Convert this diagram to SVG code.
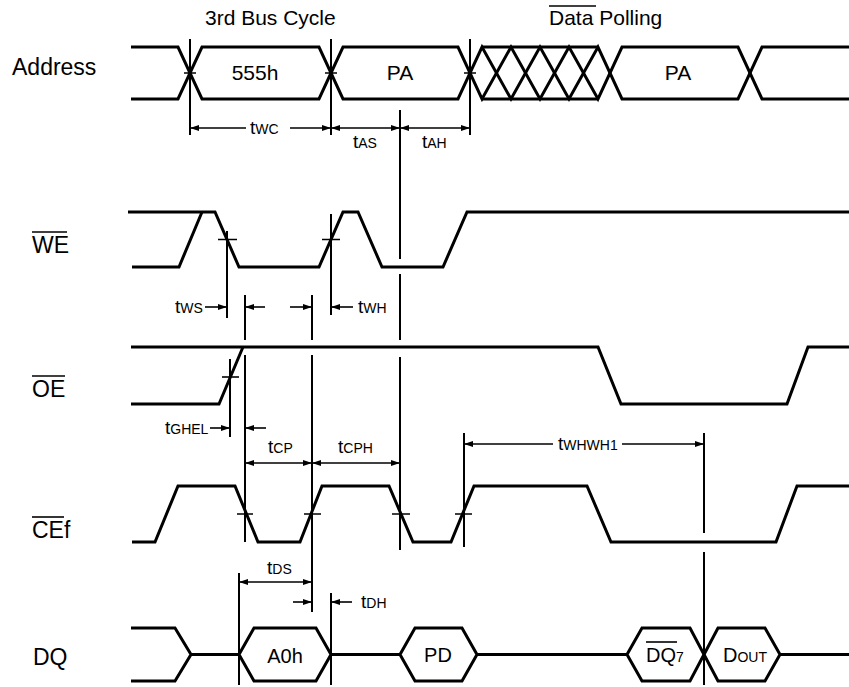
<svg xmlns="http://www.w3.org/2000/svg" width="849" height="687" viewBox="0 0 849 687">
<defs>
<style>
.sig{fill:none;stroke:#000;stroke-width:3;stroke-linejoin:miter}
.ref{fill:none;stroke:#000;stroke-width:2}
.dim{fill:none;stroke:#000;stroke-width:1.6}
.arr{fill:none;stroke:#000;stroke-width:1.6;marker-end:url(#ah)}
.arr2{fill:none;stroke:#000;stroke-width:1.6;marker-end:url(#ah);marker-start:url(#ahs)}
.lbl{font-family:"Liberation Sans",Arial,sans-serif;font-size:23px;fill:#000}
.big{font-family:"Liberation Sans",Arial,sans-serif;font-size:21px;fill:#000}
.hx{font-family:"Liberation Sans",Arial,sans-serif;font-size:20px;fill:#000}
.t{font-family:"Liberation Sans",Arial,sans-serif;font-size:19px;fill:#000}
.sub{font-size:14px}
</style>
<marker id="ah" markerUnits="userSpaceOnUse" markerWidth="10" markerHeight="8" refX="9" refY="4" orient="auto"><path d="M0,1 L9,4 L0,7 z" fill="#000"/></marker>
<marker id="ahs" markerUnits="userSpaceOnUse" markerWidth="10" markerHeight="8" refX="0" refY="4" orient="auto"><path d="M9,1 L0,4 L9,7 z" fill="#000"/></marker>
</defs>
<rect width="849" height="687" fill="#fff"/>

<g id="titles">
<text class="big" x="205" y="25">3rd Bus Cycle</text>
<text class="big" x="549" y="25">Data Polling</text>
<line class="dim" x1="549" y1="6" x2="596" y2="6"/>
</g>

<g id="address">
<text class="lbl" x="12" y="75">Address</text>
<path class="sig" d="M131,47 H178 L202,99 H319 L343,47 H458 L482,99 L511,47 L540,99 L569,47 L598,99 L622,47 H738 L762,99 H849"/>
<path class="sig" d="M131,99 H178 L202,47 H319 L343,99 H458 L482,47 L511,99 L540,47 L569,99 L598,47 L622,99 H738 L762,47 H849"/>
<path class="sig" d="M482,47 H598 M482,99 H598"/>
<text class="big" x="255" y="80" text-anchor="middle">555h</text>
<text class="big" x="400" y="80" text-anchor="middle">PA</text>
<text class="big" x="678" y="80" text-anchor="middle">PA</text>
</g>

<g id="we">
<text class="lbl" x="32" y="253">WE</text>
<line class="dim" x1="32" y1="232" x2="67" y2="232"/>
<path class="sig" d="M128,212 H215 L239,267 H319 L343,212 H358 L382,267 H443 L467,212 H849"/>
<path class="sig" d="M132,267 H179 L202,212"/>
</g>

<g id="oe">
<text class="lbl" x="32" y="397">OE</text>
<line class="dim" x1="32" y1="376" x2="65" y2="376"/>
<path class="sig" d="M131,347 H598 L621,404 H787 L808,347 H849"/>
<path class="sig" d="M131,404 H219 L243,347"/>
</g>

<g id="cef">
<text class="lbl" x="32" y="538">CEf</text>
<line class="dim" x1="32" y1="517" x2="64" y2="517"/>
<path class="sig" d="M132,542 H155 L178,486 H235 L258,542 H300 L322,486 H389 L413,542 H451 L474,486 H587 L611,542 H776 L797,486 H849"/>
</g>

<g id="dq">
<text class="lbl" x="33" y="665">DQ</text>
<path class="sig" d="M131,628 H175 L191,654.5 L175,681 H131 M191,654.5 H239 M331,654.5 H400 M477,654.5 H627 M780,654.5 H849"/>
<path class="sig" d="M239,654.5 L254,628 H316 L331,654.5 L316,681 H254 Z"/>
<path class="sig" d="M400,654.5 L415,628 H462 L477,654.5 L462,681 H415 Z"/>
<path class="sig" d="M627,654.5 L642,628 H690 L704,654.5 L690,681 H642 Z"/>
<path class="sig" d="M704,654.5 L718,628 H765 L780,654.5 L765,681 H718 Z"/>
<text class="hx" x="285" y="663" text-anchor="middle">A0h</text>
<text class="hx" x="438" y="662" text-anchor="middle">PD</text>
<text class="hx" x="646" y="662">DQ<tspan class="sub">7</tspan></text>
<line class="dim" x1="646" y1="642" x2="677" y2="642"/>
<text class="hx" x="723" y="662">D<tspan class="sub">OUT</tspan></text>
</g>

<g id="connectors">
<path class="ref" d="M190,39 V135 M331,39 V135 M470,39 V135"/>
<path class="dim" d="M184,73 H196 M325,73 H337 M464,73 H476"/>
<path class="ref" d="M400,110 V259 M400,274 V340 M400,357 V550"/>
<path class="arr" d="M246,128 H190"/>
<path class="arr" d="M290,128 H331"/>
<text class="t" x="250" y="134">t<tspan class="sub">WC</tspan></text>
<path class="arr2" d="M331,128 H400"/>
<path class="arr2" d="M400,128 H470"/>
<text class="t" x="353" y="148">t<tspan class="sub">AS</tspan></text>
<text class="t" x="422" y="148">t<tspan class="sub">AH</tspan></text>
<path class="ref" d="M227,231 V318 M331,214 V315"/>
<path class="dim" d="M218,239.5 H237 M322,239.5 H340"/>
<path class="arr" d="M205,307 H227"/>
<text class="t" x="175" y="313">t<tspan class="sub">WS</tspan></text>
<path class="arr" d="M353,307 H331"/>
<text class="t" x="358" y="313">t<tspan class="sub">WH</tspan></text>
<path class="ref" d="M245,295 V340 M245,355 V542 M312,295 V340 M312,355 V612"/>
<path class="arr" d="M265,307 H245"/>
<path class="arr" d="M290,307 H312"/>
<path class="ref" d="M230,359 V437"/>
<path class="dim" d="M222,377 H239"/>
<path class="arr" d="M210,428 H230"/>
<path class="arr" d="M266,428 H245"/>
<text class="t" x="165" y="434">t<tspan class="sub">GHEL</tspan></text>
<path class="arr2" d="M245,463 H312"/>
<path class="arr2" d="M312,463 H400"/>
<text class="t" x="268" y="453">t<tspan class="sub">CP</tspan></text>
<text class="t" x="338" y="453">t<tspan class="sub">CPH</tspan></text>
<path class="dim" d="M237,514 H253 M304,514 H321 M392,514 H410 M455,514 H472"/>
<path class="ref" d="M464,433 V547 M704,433 V533 M704,552 V685"/>
<path class="arr" d="M553,444 H464"/>
<path class="arr" d="M622,444 H704"/>
<text class="t" x="558" y="450">t<tspan class="sub">WHWH1</tspan></text>
<path class="ref" d="M239,573 V685 M331,593 V685"/>
<path class="arr2" d="M239,582 H312"/>
<text class="t" x="267" y="574">t<tspan class="sub">DS</tspan></text>
<path class="arr" d="M293,602 H312"/>
<path class="arr" d="M352,602 H331"/>
<text class="t" x="361" y="608">t<tspan class="sub">DH</tspan></text>
</g>
</svg>
